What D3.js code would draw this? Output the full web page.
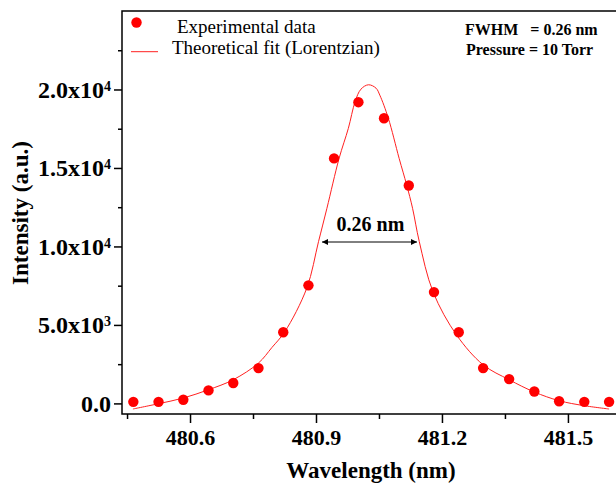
<!DOCTYPE html>
<html>
<head>
<meta charset="utf-8">
<script src="https://cdn.jsdelivr.net/npm/d3@7"></script>
<style>
  body { margin: 0; background: #fff; }
  svg { display: block; font-family: "Liberation Serif", "Times New Roman", serif; }
  .axis text { font-family: "Liberation Serif", serif; font-weight: bold; font-size: 22px; fill: #000; }
  .axis line { stroke: #000; stroke-width: 1.5; }
  .axis path { display: none; }
</style>
</head>
<body>
<svg></svg>
<script>
const w = 616;
const h = 483;

// Data
const wavelength = [480.465, 480.525, 480.584, 480.644, 480.703, 480.763, 480.822, 480.882, 480.943, 481.001,
                    481.062, 481.121, 481.181, 481.240, 481.298, 481.360, 481.420, 481.479, 481.539, 481.598];
const intensity = [100, 100, 235, 830, 1300, 2250, 4530, 7520, 15610, 19190,
                   18170, 13880, 7090, 4530, 2250, 1550, 760, 140, 100, 100];

// Lorentzian fit line
const fitWavelength = [480.464, 480.525, 480.584, 480.644, 480.703, 480.763, 480.795, 480.826, 480.878, 480.906,
                       480.926, 480.955, 480.977, 480.993, 481.007, 481.025, 481.043, 481.052, 481.072, 481.098,
                       481.116, 481.130, 481.146, 481.179, 481.235, 481.298, 481.360, 481.420, 481.479, 481.539, 481.598];
const fitIntensity = [-356, -19, 344, 871, 1508, 2570, 3560, 4580, 7341, 10305,
                      12430, 15611, 17519, 19211, 20019, 20300, 20083, 19638, 18193, 15611,
                      13912, 12430, 10305, 7087, 4350, 2462, 1508, 725, 172, -146, -356];

const xMajor = [480.6, 480.9, 481.2, 481.5];
const xMinor = [480.45, 480.75, 481.05, 481.35];
const yMajor = [0, 5000, 10000, 15000, 20000];
const yLabels = [["0.0", ""], ["5.0x10", "3"], ["1.0x10", "4"], ["1.5x10", "4"], ["2.0x10", "4"]];
const yMinor = [2500, 7500, 12500, 17500, 22500];

const m = { left: 122, right: 620, top: 11, bottom: 414 };

const svg = d3.select("svg")
    .attr("width", w)
    .attr("height", h);

const x = d3.scaleLinear().domain([480.438, 481.624]).range([m.left, m.right]);
const y = d3.scaleLinear().domain([-675, 25000]).range([m.bottom, m.top]);

// Axes
svg.append("g")
    .attr("class", "axis")
    .attr("transform", `translate(0,${m.bottom})`)
    .call(d3.axisBottom(x).tickValues(xMajor).tickSize(9).tickPadding(6).tickFormat(d3.format(".1f")));

svg.append("g")
    .attr("class", "axis")
    .attr("transform", `translate(0,${m.bottom})`)
    .call(d3.axisBottom(x).tickValues(xMinor).tickSize(5).tickFormat(""));

svg.append("g")
    .attr("class", "axis")
    .attr("transform", `translate(${m.left},0)`)
    .call(d3.axisLeft(y).tickValues(yMajor).tickSize(8).tickFormat(""));

svg.append("g")
    .attr("class", "axis")
    .attr("transform", `translate(${m.left},0)`)
    .call(d3.axisLeft(y).tickValues(yMinor).tickSize(4).tickFormat(""));

// y tick labels with superscripts
const yl = svg.selectAll(".ylab")
    .data(yMajor)
    .enter()
    .append("text")
    .attr("class", "ylab")
    .attr("x", 111)
    .attr("y", d => y(d))
    .attr("dy", "0.35em")
    .attr("text-anchor", "end")
    .style("font-weight", "bold")
    .style("font-size", "24px");

yl.append("tspan").text((d, i) => yLabels[i][0]);
yl.append("tspan")
    .attr("dy", "-0.5em")
    .style("font-size", "14px")
    .text((d, i) => yLabels[i][1]);

// Frame
svg.append("path")
    .attr("d", `M${m.right},${m.top}H${m.left}V${m.bottom}H${m.right}`)
    .attr("fill", "none")
    .attr("stroke", "#000")
    .attr("stroke-width", 1.5);

// Fit line
const line = d3.line()
    .x((d, i) => x(fitWavelength[i]))
    .y(d => y(d))
    .curve(d3.curveCatmullRom.alpha(0.5));

svg.append("path")
    .datum(fitIntensity)
    .attr("d", line)
    .attr("fill", "none")
    .attr("stroke", "#ff2020")
    .attr("stroke-width", 1);

// Data points
svg.selectAll(".pt")
    .data(intensity)
    .enter()
    .append("circle")
    .attr("class", "pt")
    .attr("cx", (d, i) => x(wavelength[i]))
    .attr("cy", d => y(d))
    .attr("r", 5.2)
    .attr("fill", "#ff0000");

// FWHM arrow
const defs = svg.append("defs");
defs.append("marker")
    .attr("id", "arr")
    .attr("viewBox", "0 0 10 10")
    .attr("refX", 10)
    .attr("refY", 5)
    .attr("markerWidth", 9)
    .attr("markerHeight", 6)
    .attr("markerUnits", "userSpaceOnUse")
    .attr("orient", "auto-start-reverse")
    .append("path")
    .attr("d", "M0,0L10,5L0,10Z")
    .attr("fill", "#000");

svg.append("line")
    .attr("x1", 322).attr("x2", 417)
    .attr("y1", 242).attr("y2", 242)
    .attr("stroke", "#000")
    .attr("stroke-width", 1)
    .attr("marker-start", "url(#arr)")
    .attr("marker-end", "url(#arr)");

svg.append("text")
    .attr("x", 370.5)
    .attr("y", 230.5)
    .attr("text-anchor", "middle")
    .style("font-weight", "bold")
    .style("font-size", "20px")
    .text("0.26 nm");

// Legend
svg.append("circle")
    .attr("cx", 136.5).attr("cy", 22.5).attr("r", 5.2)
    .attr("fill", "#ff0000");
svg.append("text")
    .attr("x", 177).attr("y", 33)
    .style("font-size", "19px")
    .text("Experimental data");
svg.append("line")
    .attr("x1", 131).attr("x2", 158)
    .attr("y1", 51.7).attr("y2", 51.7)
    .attr("stroke", "#ff2020")
    .attr("stroke-width", 1);
svg.append("text")
    .attr("x", 172).attr("y", 53.5)
    .style("font-size", "19px")
    .text("Theoretical fit (Lorentzian)");

// Annotations
svg.append("text")
    .attr("x", 465).attr("y", 34.5)
    .style("font-weight", "bold")
    .style("font-size", "16px")
    .style("white-space", "pre")
    .text("FWHM   = 0.26 nm");
svg.append("text")
    .attr("x", 466).attr("y", 55)
    .style("font-weight", "bold")
    .style("font-size", "16px")
    .text("Pressure = 10 Torr");

// Axis titles
svg.append("text")
    .attr("x", 371).attr("y", 478)
    .attr("text-anchor", "middle")
    .style("font-weight", "bold")
    .style("font-size", "23px")
    .text("Wavelength (nm)");

svg.append("text")
    .attr("transform", "translate(28,213) rotate(-90)")
    .attr("text-anchor", "middle")
    .style("font-weight", "bold")
    .style("font-size", "23px")
    .text("Intensity (a.u.)");
</script>
</body>
</html>
